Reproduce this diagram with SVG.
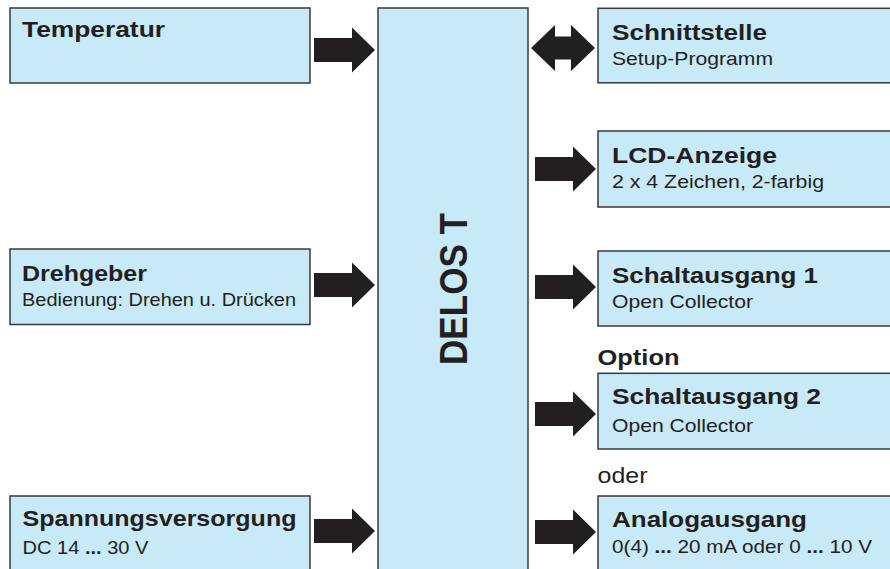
<svg xmlns="http://www.w3.org/2000/svg" width="890" height="569" viewBox="0 0 890 569">
<style>
.box{fill:#c7e9f8;stroke:#3a3a3a;stroke-width:1.5}
.t{font-family:"Liberation Sans",Arial,sans-serif;font-weight:bold;font-size:22.5px;fill:#231f20}
.s{font-family:"Liberation Sans",Arial,sans-serif;font-size:18.5px;fill:#231f20}
.b{font-weight:bold}
.arr{fill:#231f20}
</style>
<defs>
<path id="arrow" d="M-61,-12 H-23 V-22.5 L0,0 L-23,22.5 V12 H-61 Z"/>
</defs>
<rect width="890" height="569" fill="#ffffff"/>
<g id="connectors" class="arr">
<use href="#arrow" transform="translate(375,50)"/>
<use href="#arrow" transform="translate(375,285)"/>
<use href="#arrow" transform="translate(375,531)"/>
<path d="M531,48 L555,25 V36.5 H571 V25 L595,48 L571,71 V59.5 H555 V71 Z"/>
<use href="#arrow" transform="translate(596,169)"/>
<use href="#arrow" transform="translate(596,287)"/>
<use href="#arrow" transform="translate(596,414)"/>
<use href="#arrow" transform="translate(596,532)"/>
</g>
<g id="temperatur">
<rect class="box" x="10" y="8" width="300" height="75"/>
<text class="t" x="22" y="37" textLength="143" lengthAdjust="spacingAndGlyphs">Temperatur</text>
</g>
<g id="drehgeber">
<rect class="box" x="10" y="249" width="300" height="75.5"/>
<text class="t" x="22" y="281" textLength="125" lengthAdjust="spacingAndGlyphs">Drehgeber</text>
<text class="s" x="22" y="306" textLength="274" lengthAdjust="spacingAndGlyphs">Bedienung: Drehen u. Drücken</text>
</g>
<g id="spannungsversorgung">
<rect class="box" x="10" y="496" width="300" height="80"/>
<text class="t" x="22.5" y="526" textLength="274" lengthAdjust="spacingAndGlyphs">Spannungsversorgung</text>
<text class="s" x="22.5" y="554" textLength="126" lengthAdjust="spacingAndGlyphs">DC 14 <tspan class="b">...</tspan> 30 V</text>
</g>
<g id="delos">
<rect class="box" x="378" y="8" width="150" height="570"/>
<text class="t" x="467" y="289" transform="rotate(-90 467 289)" text-anchor="middle" style="font-size:39px" textLength="152" lengthAdjust="spacingAndGlyphs">DELOS T</text>
</g>
<g id="schnittstelle">
<rect class="box" x="598" y="8.3" width="300" height="74.5"/>
<text class="t" x="612" y="39.5" textLength="155" lengthAdjust="spacingAndGlyphs">Schnittstelle</text>
<text class="s" x="612" y="65" textLength="161" lengthAdjust="spacingAndGlyphs">Setup-Programm</text>
</g>
<g id="lcd">
<rect class="box" x="598" y="131" width="300" height="76"/>
<text class="t" x="612" y="162.7" textLength="165" lengthAdjust="spacingAndGlyphs">LCD-Anzeige</text>
<text class="s" x="612" y="188.3" textLength="212" lengthAdjust="spacingAndGlyphs">2 x 4 Zeichen, 2-farbig</text>
</g>
<g id="schaltausgang1">
<rect class="box" x="598" y="251" width="300" height="75"/>
<text class="t" x="612" y="283.3" textLength="206" lengthAdjust="spacingAndGlyphs">Schaltausgang 1</text>
<text class="s" x="612" y="308.3" textLength="141" lengthAdjust="spacingAndGlyphs">Open Collector</text>
</g>
<g id="option-label">
<text class="t" x="597.5" y="365" textLength="82" lengthAdjust="spacingAndGlyphs">Option</text>
</g>
<g id="schaltausgang2">
<rect class="box" x="598" y="373.3" width="300" height="75.7"/>
<text class="t" x="612" y="404" textLength="209" lengthAdjust="spacingAndGlyphs">Schaltausgang 2</text>
<text class="s" x="612" y="431.7" textLength="141" lengthAdjust="spacingAndGlyphs">Open Collector</text>
</g>
<g id="oder-label">
<text class="s" x="597.5" y="483.3" style="font-size:22px" textLength="50" lengthAdjust="spacingAndGlyphs">oder</text>
</g>
<g id="analogausgang">
<rect class="box" x="598" y="496" width="300" height="80"/>
<text class="t" x="612" y="526.7" textLength="195" lengthAdjust="spacingAndGlyphs">Analogausgang</text>
<text class="s" x="612" y="553" textLength="260" lengthAdjust="spacingAndGlyphs">0(4) <tspan class="b">...</tspan> 20 mA oder 0 <tspan class="b">...</tspan> 10 V</text>
</g>
</svg>
